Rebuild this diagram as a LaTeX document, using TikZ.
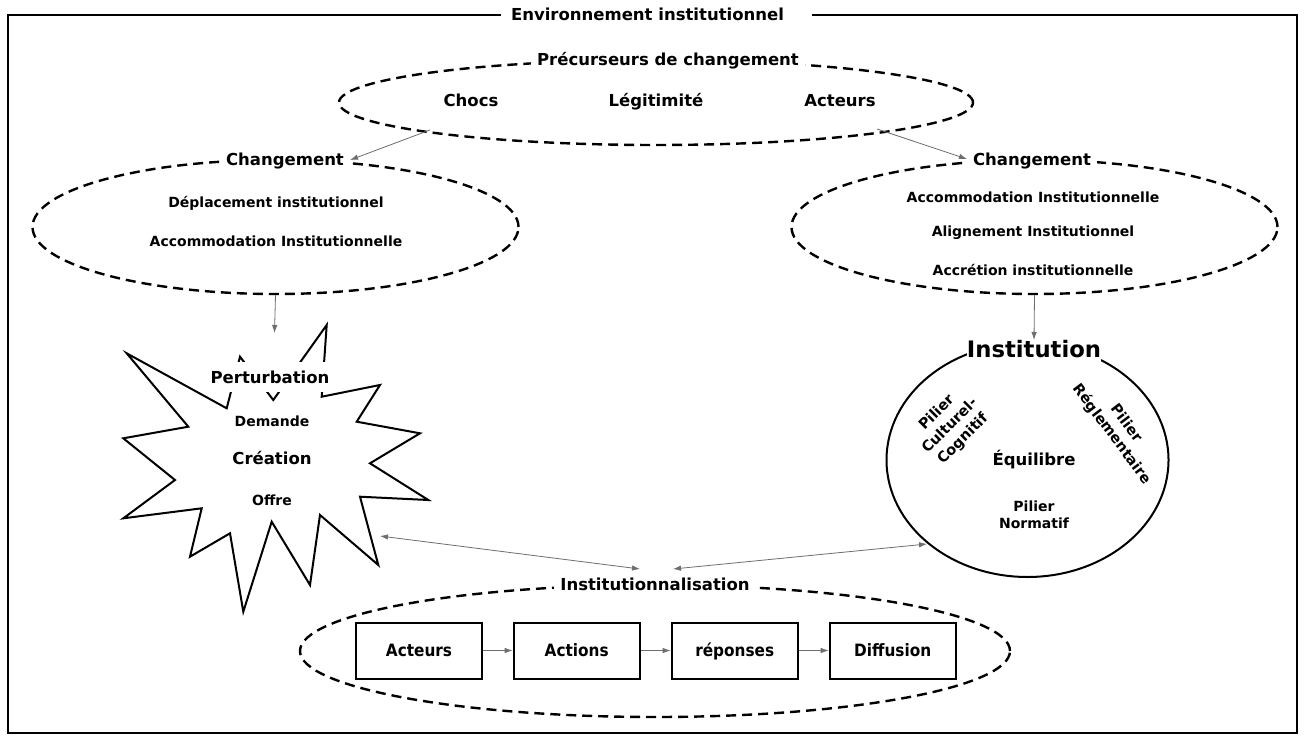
\documentclass[tikz,border=0pt]{standalone}
\usepackage{fontspec}
\setmainfont{DejaVu Sans}
\newfontfamily\condf{DejaVu Sans Condensed}
\usetikzlibrary{shapes.geometric,arrows.meta}
\definecolor{arrowgray}{RGB}{110,110,110}
\begin{document}
\begin{tikzpicture}[x=1pt,y=-1pt,
  lbl/.style={text height=12pt, text depth=0pt, fill=white, inner xsep=6pt, inner ysep=5pt, font=\bfseries\fontsize{16.5}{19}\selectfont},
  itm/.style={text height=10.2pt, text depth=0pt, font=\bfseries\fontsize{14}{17}\selectfont},
  big/.style={text height=12pt, text depth=0pt, font=\bfseries\fontsize{16.5}{19}\selectfont},
  two/.style={font=\bfseries\fontsize{14}{17}\selectfont, align=center},
  rot/.style={font=\bfseries\fontsize{14.5}{18.5}\selectfont, align=center, inner sep=0pt},
  dell/.style={ellipse, draw, line width=2.4pt, dash pattern=on 10pt off 6pt, inner sep=0pt},
  garrow/.style={draw=arrowgray, line width=0.8pt, -{Latex[length=8pt,width=5.5pt]}},
  gboth/.style={draw=arrowgray, line width=0.8pt, {Latex[length=8pt,width=5.5pt]}-{Latex[length=8pt,width=5.5pt]}},
  stepbox/.style={draw, line width=2pt, minimum width=126pt, minimum height=56pt, inner sep=0pt, text height=12.4pt, text depth=0pt, font=\condf\bfseries\fontsize{17}{19}\selectfont}]
\useasboundingbox (0,0) rectangle (1305,738);
\fill[white] (0,0) rectangle (1305,738);

% frame
\node[lbl, fill=none, inner xsep=0pt] (env) at (647.5,15) {Environnement institutionnel};
\coordinate (fl) at (501,15);
\coordinate (fr) at (812,15);
\draw[line width=2pt] (fl) -- (8,15) -- (8,733) -- (1297,733) -- (1297,15) -- (fr);

% top ellipse
\node[dell, minimum width=634pt, minimum height=85pt] (prec) at (656,102.5) {};
\node[lbl] (precl) at (668,60) {Précurseurs de changement};
\node[big] (chocs) at (471,101) {Chocs};
\node[big] (legit) at (656,101) {Légitimité};
\node[big] (act) at (840,101) {Acteurs};

% left change ellipse
\node[dell, minimum width=486pt, minimum height=134pt] (chL) at (275.5,227) {};
\node[lbl] (chLl) at (285,160) {Changement};
\node[itm] (dep) at (276,202) {Déplacement institutionnel};
\node[itm] (accL) at (276,241) {Accommodation Institutionnelle};

% right change ellipse
\node[dell, minimum width=486pt, minimum height=134pt] (chR) at (1034.5,227) {};
\node[lbl] (chRl) at (1032,159) {Changement};
\node[itm] (accR) at (1033,197) {Accommodation Institutionnelle};
\node[itm] (ali) at (1033,231) {Alignement Institutionnel};
\node[itm] (accr) at (1033,270) {Accrétion institutionnelle};

% arrows from precursors
\coordinate (p1) at (430,130);
\coordinate (p2) at (877,129);
\draw[garrow] (p1) -- (chLl.east);
\draw[garrow] (p2) -- (chRl.west);

% star
\draw[line width=2pt, fill=white] (326.7,325) -- (321.7,396.7) -- (380,385) -- (356.7,421.7) -- (420,433.3)
  -- (370,463.3) -- (428.3,500) -- (360,496.7) -- (378.3,565) -- (320,515) -- (310,585)
  -- (271.7,521.7) -- (243.3,611.7) -- (230,533.3) -- (190,556.7) -- (201.7,508.3)
  -- (123.3,518.3) -- (175,480) -- (123.3,438.3) -- (188.3,426.7) -- (126.7,353.3)
  -- (226.7,408.3) -- (240,356.7) -- (273.3,400) -- cycle;
\node[big, fill=white, inner xsep=1pt, inner ysep=9pt] (pert) at (270,377) {Perturbation};
\node[itm] (dem) at (272,421) {Demande};
\node[big] (crea) at (272,458) {Création};
\node[itm] (offre) at (272,500) {Offre};
\coordinate (pt) at (274.5,333);
\draw[garrow] (chL.south) -- (pt);

% institution
\node[ellipse, draw, line width=2pt, minimum width=282pt, minimum height=234pt, inner sep=0pt] (instc) at (1027.5,460) {};
\node[font=\bfseries\fontsize{22.7}{26}\selectfont, text height=16.5pt, text depth=0pt, fill=white, inner xsep=0pt, inner ysep=8pt] (inst) at (1034,349) {Institution};
\coordinate (it) at (1034,340);
\draw[garrow] (chR.south) -- (it);
\node[big] (equi) at (1034,459) {Équilibre};
\node[two] (norm) at (1034,515) {Pilier\\Normatif};
\node[rot, rotate=45] (cult) at (950,426) {Pilier\\Culturel-\\Cognitif};
\node[rot, rotate=-53] (regl) at (1119,429) {Pilier\\Réglementaire};

% institutionnalisation
\node[dell, minimum width=710pt, minimum height=132pt] (ie) at (655,651) {};
\node[lbl] (iel) at (655,584) {Institutionnalisation};
\node[stepbox] (b1) at (419,650.5) {Acteurs};
\node[stepbox] (b2) at (576.7,650.5) {Actions};
\node[stepbox] (b3) at (734.7,650.5) {réponses};
\node[stepbox] (b4) at (892.7,650.5) {Diffusion};
\draw[garrow] (b1) -- (b2);
\draw[garrow] (b2) -- (b3);
\draw[garrow] (b3) -- (b4);

% bidirectional arrows
\coordinate (sa) at (380,536);
\coordinate (ca) at (640,569);
\coordinate (cb) at (673,569);
\coordinate (ia) at (927,544);
\draw[gboth] (sa) -- (ca);
\draw[gboth] (cb) -- (ia);
\end{tikzpicture}
\end{document}
